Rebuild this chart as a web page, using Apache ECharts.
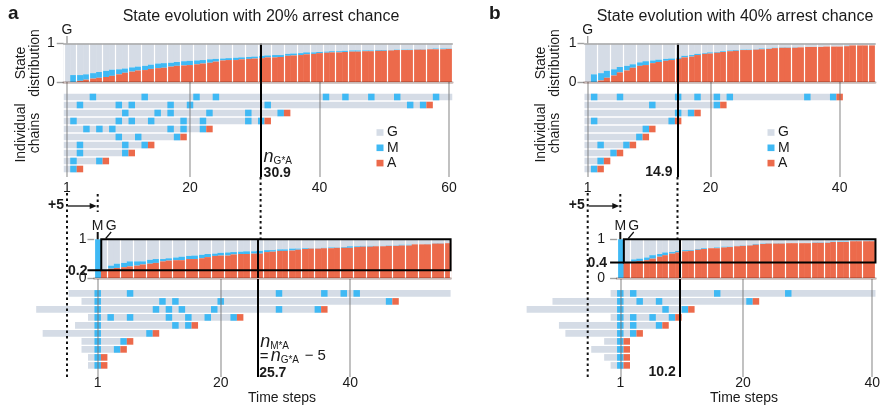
<!DOCTYPE html>
<html><head><meta charset="utf-8">
<script src="https://cdn.jsdelivr.net/npm/echarts@6/dist/echarts.min.js"></script>
<style>html,body{margin:0;padding:0;background:#fff}#c{width:881px;height:408px}</style>
</head><body><div id="c"></div>
<script>
// ---------------- data ----------------
// state distributions: fraction arrested (A) and fraction M+A, per time step (step = index+1)
const aTopA  = [0,0,0.03,0.06,0.09,0.11,0.13,0.16,0.20,0.24,0.27,0.30,0.31,0.34,0.36,0.37,0.40,0.42,0.43,0.44,0.46,0.48,0.50,0.53,0.56,0.57,0.57,0.59,0.60,0.61,0.62,0.64,0.64,0.65,0.68,0.69,0.70,0.72,0.73,0.75,0.76,0.77,0.77,0.78,0.79,0.79,0.80,0.80,0.81,0.81,0.82,0.83,0.83,0.83,0.84,0.84,0.85,0.85,0.85,0.86];
const aTopMA = [0,0.18,0.18,0.20,0.23,0.26,0.29,0.32,0.33,0.35,0.38,0.40,0.42,0.45,0.48,0.49,0.50,0.52,0.54,0.55,0.56,0.57,0.59,0.60,0.61,0.62,0.63,0.64,0.65,0.66,0.68,0.69,0.70,0.70,0.73,0.74,0.75,0.77,0.77,0.78,0.79,0.80,0.80,0.81,0.82,0.82,0.82,0.82,0.83,0.83,0.83,0.84,0.84,0.84,0.85,0.85,0.86,0.87,0.87,0.87];
const aBotA  = [0,0.20,0.24,0.26,0.28,0.30,0.32,0.35,0.37,0.39,0.43,0.45,0.46,0.46,0.49,0.49,0.51,0.54,0.57,0.58,0.58,0.61,0.62,0.62,0.63,0.63,0.67,0.68,0.70,0.70,0.71,0.73,0.75,0.76,0.76,0.77,0.77,0.78,0.78,0.78,0.80,0.81,0.81,0.82,0.82,0.83,0.83,0.84,0.84,0.87,0.87,0.87,0.89,0.89,0.90];
const aBotMA = [1,0.20,0.32,0.37,0.39,0.43,0.43,0.43,0.47,0.49,0.49,0.51,0.53,0.55,0.57,0.58,0.60,0.62,0.63,0.65,0.66,0.67,0.68,0.69,0.69,0.70,0.72,0.72,0.74,0.74,0.76,0.76,0.77,0.77,0.77,0.78,0.79,0.79,0.80,0.82,0.82,0.83,0.83,0.83,0.83,0.84,0.84,0.86,0.86,0.87,0.87,0.88,0.90,0.90,0.90];
const bTopA  = [0,0,0.04,0.11,0.17,0.25,0.30,0.37,0.42,0.44,0.49,0.52,0.55,0.57,0.60,0.64,0.66,0.70,0.73,0.74,0.76,0.78,0.80,0.81,0.83,0.83,0.84,0.85,0.86,0.88,0.89,0.89,0.89,0.90,0.91,0.91,0.91,0.92,0.92,0.92,0.93,0.95,0.95,0.95,0.95];
const bTopMA = [0,0.20,0.23,0.29,0.33,0.39,0.42,0.46,0.51,0.54,0.56,0.58,0.60,0.61,0.63,0.68,0.70,0.73,0.75,0.77,0.78,0.80,0.82,0.83,0.84,0.84,0.85,0.87,0.87,0.89,0.90,0.90,0.90,0.90,0.91,0.91,0.91,0.92,0.92,0.92,0.94,0.95,0.95,0.95,0.95];
const bBotA  = [0,0.40,0.42,0.44,0.46,0.50,0.55,0.59,0.63,0.66,0.69,0.70,0.73,0.75,0.77,0.77,0.79,0.80,0.82,0.83,0.84,0.86,0.88,0.89,0.89,0.89,0.90,0.90,0.90,0.90,0.91,0.91,0.91,0.93,0.93,0.93,0.95,0.95,0.95,0.95];
const bBotMA = [1,0.40,0.48,0.50,0.53,0.59,0.62,0.66,0.67,0.70,0.72,0.72,0.75,0.77,0.77,0.79,0.81,0.81,0.83,0.84,0.85,0.88,0.89,0.90,0.90,0.90,0.90,0.90,0.90,0.90,0.92,0.92,0.92,0.94,0.94,0.94,0.96,0.96,0.96,0.96];

// individual chains: first step, last step, arrested at last step (1/0), steps spent in M
const aTopChainStart  = [1,1,1,1,1,1,1,1,1,1];
const aTopChainEnd    = [60,57,35,32,23,19,14,11,7,3];
const aTopChainArrest = [0,1,1,1,1,1,1,1,1,1];
const aTopChainM = [[5,13,21,24,41,44,48,52,58],[3,9,11,17,20,32,54,56],[10,15,17,23,29,34],[2,9,11,14,19,22,29,31],[4,6,8,17,19,22],[9,12,18],[3,10,13],[3,10],[2,6],[2]];
const aBotChainStart  = [-3,-1,-8,0,-2,-7,-1,-1,0,0];
const aBotChainEnd    = [55,47,36,23,16,10,6,5,2,2];
const aBotChainArrest = [0,1,1,1,1,1,1,1,1,1];
const aBotChainM = [[1,6,29,36,39,41],[1,11,13,20,46],[1,10,12,14,19,29,35],[1,3,6,12,15,18,22],[1,13,15],[1,9],[1,5],[1,4],[1],[1]];
const bTopChainStart  = [1,1,1,1,1,1,1,1,1,1];
const bTopChainEnd    = [40,22,18,15,11,10,8,6,4,3];
const bTopChainArrest = [1,1,1,1,1,1,1,1,1,1];
const bTopChainM = [[2,6,15,18,21,23,35,39],[11,21],[15,17],[2,14],[10],[9],[3,7],[5],[3],[2]];
const bBotChainStart  = [0,-9,-13,0,-8,-7,-1,-3,-1,0];
const bBotChainEnd    = [40,22,12,10,8,4,2,2,2,2];
const bBotChainArrest = [0,1,1,1,1,1,1,1,1,1];
const bBotChainM = [[1,3,16,27],[1,4,7,21],[1,8,11],[1,3,6,9],[1,3,7],[1,3],[1],[1],[1],[1]];

const aTickLabels = [1,20,40,60];
const aBotTickLabels = [1,20,40];
const bTickLabels = [1,20,40];
const stateTicks = [0,1];
const aNGA = 30.9, aNMA = 25.7, bNGA = 14.9, bNMA = 10.2;
const aArrest = 0.2, bArrest = 0.4;
const shift = 5;
const titles = ['State evolution with 20% arrest chance','State evolution with 40% arrest chance'];
const legendNames = ['G','M','A'];

// ---------------- rendering ----------------
const FONT = "'Liberation Sans', Arial, Helvetica, sans-serif";
const COL = {G:'#d5dce6', M:'#3fb9f4', A:'#ec6a4b'};
const TXT = '#1a1a1a';
const chart = echarts.init(document.getElementById('c'));

function stateData(A, MA){ return A.map((a,i)=>[i+1, a, MA[i]]); }
function chainData(start, end, arrest, M){
  const out = [];
  for (let r=0; r<start.length; r++){
    const row = r+1;
    out.push([row, start[r]-0.5, arrest[r] ? end[r]-0.5 : end[r]+0.5, 0]);
    M[r].forEach(m=>out.push([row, m-0.5, m+0.5, 1]));
    if (arrest[r]) out.push([row, end[r]-0.5, end[r]+0.5, 2]);
  }
  return out;
}
function renderState(params, api){
  const s=api.value(0), a=api.value(1), ma=api.value(2);
  const x0=api.coord([s-0.5,0])[0], x1=api.coord([s+0.5,0])[0];
  const y0=api.coord([s,0])[1], yA=api.coord([s,a])[1], yMA=api.coord([s,ma])[1], y1=api.coord([s,1])[1];
  const w=x1-x0+0.5;
  return {type:'group', children:[
    {type:'rect', shape:{x:x0,y:y1,width:w,height:yMA-y1}, style:{fill:COL.G}},
    {type:'rect', shape:{x:x0,y:yMA,width:w,height:yA-yMA}, style:{fill:COL.M}},
    {type:'rect', shape:{x:x0,y:yA,width:w,height:y0-yA}, style:{fill:COL.A}}
  ]};
}
function renderChain(params, api){
  const row=api.value(0), k=api.value(3);
  const p0=api.coord([api.value(1),row]), p1=api.coord([api.value(2),row]);
  const h=6.6;
  return {type:'rect', shape:{x:p0[0], y:p0[1]-h/2, width:p1[0]-p0[0], height:h}, style:{fill:[COL.G,COL.M,COL.A][k]}};
}
function vlines(vals, black){
  const d = vals.map(v=>({xAxis:v, lineStyle:{color:'rgba(115,115,115,0.55)', width:1.6, type:'solid'}}));
  if (black!=null) d.push({xAxis:black, lineStyle:{color:'#000', width:2, type:'solid'}});
  return {silent:true, symbol:['none','none'], label:{show:false}, animation:false, data:d};
}
function gridX(x1, minV, maxV, s){ return {left: x1+(minV-1)*s, width:(maxV-minV)*s}; }

const sA=6.475, sB=6.46;
const gridsSpec = [
  Object.assign({top:43.5, height:38.5}, gridX(67, 0.5, 60.5, sA)),
  Object.assign({top:82, height:95}, gridX(67, 0.5, 60.5, sA)),
  Object.assign({top:239.3, height:38.7}, gridX(97.7, 0.5, 55.5, sA)),
  Object.assign({top:279, height:98}, gridX(97.7, -8.5, 55.5, sA)),
  Object.assign({top:43.5, height:38.5}, gridX(587.7, 0.5, 45.5, sB)),
  Object.assign({top:82, height:95}, gridX(587.7, 0.5, 45.5, sB)),
  Object.assign({top:239.3, height:38.7}, gridX(620.3, 0.5, 40.5, sB)),
  Object.assign({top:279, height:98}, gridX(620.3, -13.5, 40.5, sB))
];
const grid = gridsSpec.map(g=>Object.assign({outerBoundsMode:'none', containLabel:false}, g));

function stateX(gi, min, max){
  return {gridIndex:gi, type:'value', min, max, interval:2, position:'bottom', z:5,
    axisLine:{show:true, onZero:false, lineStyle:{color:'rgba(70,20,10,0.3)', width:2.5}},
    axisTick:{show:false}, axisLabel:{show:false},
    splitLine:{show:true, lineStyle:{color:'#ffffff', width:1.2}}};
}
function topLineX(gi, min, max){
  return {gridIndex:gi, type:'value', min, max, position:'top', z:5,
    axisLine:{show:true, onZero:false, lineStyle:{color:'#a8a8a8', width:1.6}},
    axisTick:{show:false}, axisLabel:{show:false}, splitLine:{show:false}};
}
function chainX(gi, min, max, labels, margin){
  return {gridIndex:gi, type:'value', min, max, position:'bottom',
    axisLine:{show:false}, axisTick:{show:false}, splitLine:{show:false},
    axisLabel:{show:true, customValues:labels, margin, color:TXT, fontSize:14, fontFamily:FONT, formatter:v=>String(v)}};
}
function stateY(gi, margin){
  return {gridIndex:gi, type:'value', min:0, max:1,
    axisLine:{show:false}, splitLine:{show:false},
    axisTick:{show:true, length:7, customValues:stateTicks, lineStyle:{color:'#a0a0a0', width:1.4}},
    axisLabel:{show:true, customValues:stateTicks, margin, hideOverlap:false, color:TXT, fontSize:14, fontFamily:FONT, formatter:v=>String(v)}};
}
function chainY(gi, min, max){
  return {gridIndex:gi, type:'value', min, max, inverse:true, show:false};
}

const xAxis = [
  stateX(0,0.5,60.5), topLineX(0,0.5,60.5), chainX(1,0.5,60.5,aTickLabels,4.5),
  stateX(2,0.5,55.5), chainX(3,-8.5,55.5,aBotTickLabels,-0.5),
  stateX(4,0.5,45.5), topLineX(4,0.5,45.5), chainX(5,0.5,45.5,bTickLabels,4.5),
  stateX(6,0.5,40.5), chainX(7,-13.5,40.5,bTickLabels,-0.5)
];
const yAxis = [
  stateY(0,9), chainY(1,-0.875,11), stateY(2,8), chainY(3,-0.8,11.45),
  stateY(4,8), chainY(5,-0.875,11), stateY(6,12), chainY(7,-0.8,11.45)
];

function stateSeries(xi, yi, A, MA, black){
  return {type:'custom', xAxisIndex:xi, yAxisIndex:yi, renderItem:renderState, clip:false,
    data:stateData(A,MA), encode:{x:0,y:[1,2]}, silent:true, markLine:vlines([], black)};
}
function chainSeries(xi, yi, st, en, ar, M, grey, black){
  return {type:'custom', xAxisIndex:xi, yAxisIndex:yi, renderItem:renderChain, clip:false,
    data:chainData(st,en,ar,M), encode:{x:[1,2],y:0}, silent:true, markLine:vlines(grey, black)};
}

const series = [
  stateSeries(0,0,aTopA,aTopMA,aNGA),
  chainSeries(2,1,aTopChainStart,aTopChainEnd,aTopChainArrest,aTopChainM,aTickLabels,aNGA),
  stateSeries(3,2,aBotA,aBotMA,aNMA),
  chainSeries(4,3,aBotChainStart,aBotChainEnd,aBotChainArrest,aBotChainM,aBotTickLabels,aNMA),
  stateSeries(5,4,bTopA,bTopMA,bNGA),
  chainSeries(7,5,bTopChainStart,bTopChainEnd,bTopChainArrest,bTopChainM,bTickLabels,bNGA),
  stateSeries(8,6,bBotA,bBotMA,bNMA),
  chainSeries(9,7,bBotChainStart,bBotChainEnd,bBotChainArrest,bBotChainM,bTickLabels,bNMA)
];

chart.setOption({animation:false, backgroundColor:'#fff', grid, xAxis, yAxis, series});

// ---------------- annotations computed from the axes ----------------
function px(xi, yi, x, y){ return chart.convertToPixel({xAxisIndex:xi, yAxisIndex:yi}, [x,y]); }
function txt(x,y,text,o){ o=o||{}; return {type:'text', x, y, silent:true, z:50, rotation:o.rot||0, style:{text, fill:o.color||TXT,
  font:(o.italic?'italic ':'')+(o.bold?'bold ':'')+(o.size||14)+'px '+FONT, textAlign:o.align||'left', textVerticalAlign:o.va||'middle', lineHeight:o.lh}}; }
function line(x1,y1,x2,y2,o){ o=o||{}; return {type:'line', silent:true, z:50, shape:{x1,y1,x2,y2}, style:{stroke:o.color||'#111', lineWidth:o.w||2, lineDash:o.dash||null}}; }
const DOT=[2.5,3];

function panel(p){
  const g=[];
  const x1 = px(p.xs,p.ys,1,1)[0], yTop1 = px(p.xs,p.ys,1,1)[1];
  const chainBottom = px(p.xc,p.yc,1,11)[1];
  const xb1 = px(p.xbs,p.ybs,1,1)[0], xb2 = px(p.xbs,p.ybs,2,1)[0];
  const botTop = px(p.xbs,p.ybs,1,1)[1], botFloor = px(p.xbs,p.ybs,1,p.floor)[1];
  const botLeft = px(p.xbs,p.ybs,0.5,0)[0];
  const boxL = px(p.xbs,p.ybs,1.55,1)[0], boxR = px(p.xbs,p.ybs,p.botMax+0.5,1)[0];
  const lineTopX = px(p.xs,p.ys,p.nGA,0)[0], lineBotX = px(p.xbs,p.ybs,p.nMA,0)[0];
  const botChainBottom = px(p.xbc,p.ybc,1,11.45)[1];

  g.push(txt(p.letterX, 14, p.letter, {bold:true, size:19}));
  g.push(txt(p.titleX, 16.5, p.title, {size:16, align:'center'}));
  g.push(txt(p.labelX, 63, 'State\ndistribution', {size:14, align:'center', rot:Math.PI/2, lh:14}));
  g.push(txt(p.labelX, 133, 'Individual\nchains', {size:14, align:'center', rot:Math.PI/2, lh:14}));
  g.push(txt(x1, 30, 'G', {size:14, align:'center'}));
  g.push(line(x1, 36, x1, yTop1, {color:'#a0a0a0', w:1.4}));
  g.push(line(lineTopX, chainBottom, lineTopX, botTop, {dash:DOT}));
  g.push(line(x1, 193, x1, botChainBottom, {dash:DOT}));
  g.push(line(xb1, 194, xb1, 212, {dash:DOT}));
  g.push(line(x1+1, 206, xb1-5, 206, {w:1.3}));
  g.push({type:'polygon', silent:true, z:50, shape:{points:[[xb1-1,206],[xb1-8,203],[xb1-8,209]]}, style:{fill:'#111'}});
  g.push(txt(x1-3, 205, '+'+shift, {bold:true, size:14, align:'right'}));
  g.push(txt(xb1, 226, 'M', {size:14, align:'center'}));
  g.push(txt(xb2+7, 226, 'G', {size:14, align:'center'}));
  g.push(line(xb1, 232, xb1, botTop, {w:2}));
  g.push(line(xb2+7, 232, xb2+1.5, 238.5, {w:1.2}));
  g.push({type:'rect', silent:true, z:50, shape:{x:boxL, y:botTop, width:boxR-boxL, height:botFloor-botTop}, style:{fill:null, stroke:'#000', lineWidth:2}});
  g.push(line(botLeft-7, botFloor, boxL, botFloor, {color:'#000', w:2}));
  g.push(txt(botLeft-p.floorMargin, botFloor+0.5, String(p.floor), {bold:true, size:14, align:'right'}));
  legendNames.forEach((n,i)=>{
    const y = 132.5 + i*15.3;
    g.push({type:'rect', silent:true, z:50, shape:{x:p.legX, y:y-3.3, width:7, height:6.6}, style:{fill:COL[n]}});
    g.push(txt(p.legX+10.5, y, n, {size:14}));
  });
  g.push(txt(p.timeX, 398, 'Time steps', {size:14, align:'center'}));
  if (p.letter==='a'){
    const xa = lineTopX+3;
    g.push(txt(xa, 156.5, 'n', {italic:true, size:18}));
    g.push(txt(xa+10, 161.5, 'G*A', {size:10}));
    g.push(txt(xa, 173, String(p.nGA), {bold:true, size:14}));
    const xb = lineBotX;
    g.push(txt(xb+2.5, 341.5, 'n', {italic:true, size:18}));
    g.push(txt(xb+12.5, 346.5, 'M*A', {size:10}));
    g.push(txt(xb+2, 356.5, '=', {size:15}));
    g.push(txt(xb+13, 355.5, 'n', {italic:true, size:18}));
    g.push(txt(xb+23, 360.5, 'G*A', {size:10}));
    g.push(txt(xb+47, 356, '\u2212 '+shift, {size:15}));
    g.push(txt(xb+1.5, 373.5, String(p.nMA), {bold:true, size:14}));
  } else {
    g.push(txt(lineTopX-5, 172, String(p.nGA), {bold:true, size:14, align:'right'}));
    g.push(txt(lineBotX-4, 372.5, String(p.nMA), {bold:true, size:14, align:'right'}));
  }
  return g;
}

const graphics = [].concat(
  panel({letter:'a', letterX:8, title:titles[0], titleX:261, labelX:28, legX:376.5, timeX:282,
    xs:0, ys:0, xc:2, yc:1, xbs:3, ybs:2, xbc:4, ybc:3, floor:aArrest, floorMargin:7, botMax:55, nGA:aNGA, nMA:aNMA}),
  panel({letter:'b', letterX:489, title:titles[1], titleX:735, labelX:548, legX:767.5, timeX:744,
    xs:5, ys:4, xc:7, yc:5, xbs:8, ybs:6, xbc:9, ybc:7, floor:bArrest, floorMargin:10, botMax:40, nGA:bNGA, nMA:bNMA})
);
chart.setOption({graphic:{elements:graphics}});
</script>
</body></html>
